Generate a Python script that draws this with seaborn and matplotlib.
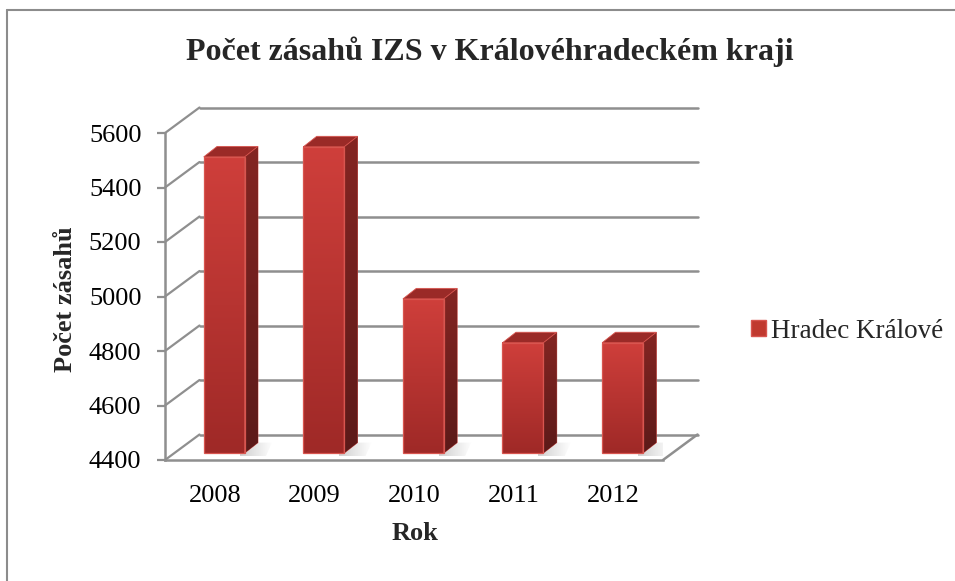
import numpy as np
import pandas as pd
import matplotlib
matplotlib.use('Agg')
import matplotlib.pyplot as plt
import seaborn as sns
from matplotlib.patches import Polygon, Patch
from matplotlib.lines import Line2D
from matplotlib.colors import LinearSegmentedColormap


### data
years = ['2008', '2009', '2010', '2011', '2012']
zasahy = [5487, 5524, 4966, 4805, 4805]
yticks = [4400, 4600, 4800, 5000, 5200, 5400, 5600]
series_name = 'Hradec Králové'
title = 'Počet zásahů IZS v Královéhradeckém kraji'
ylabel = 'Počet zásahů'
xlabel = 'Rok'

df = pd.DataFrame({'rok': years, 'zasahy': zasahy})

sns.set_theme(style='white')
plt.rcParams['font.family'] = ['Liberation Serif', 'DejaVu Serif']

GRID = '#8f8f8f'
EDGE = '#d8554f'

fig = plt.figure(figsize=(9.55, 5.81), dpi=100)
fig.patch.set_facecolor('white')
ax = fig.add_axes([165 / 955, 1 - 460 / 581, 498 / 955, 327 / 581])
ax.set_facecolor('none')

sns.barplot(data=df, x='rok', y='zasahy', color='#b83330', saturation=1,
            width=0.41, ax=ax, zorder=3)
ax.set_xlim(-0.5, 4.5)
ax.set_ylim(yticks[0], yticks[-1])

## pixel -> data units (oblique "3D" look like Excel)
bb = ax.get_window_extent()
ux = 5.0 / bb.width
uy = (yticks[-1] - yticks[0]) / bb.height
dep_x, dep_y = 34.5 * ux, 25.5 * uy      # full depth of the wall
sh = 0.27                                # where the bar fronts sit
bd_x, bd_y = 13.4 * ux, 10.5 * uy        # depth of one bar

## back wall gridlines + left wall diagonals
for t in yticks:
    ax.plot([-0.5 + dep_x, 4.5 + dep_x], [t + dep_y, t + dep_y], color=GRID, lw=1.8,
            clip_on=False, zorder=1)
    ax.plot([-0.5, -0.5 + dep_x], [t, t + dep_y], color=GRID, lw=1.6, clip_on=False, zorder=1)
ax.plot([4.5, 4.5 + dep_x], [yticks[0], yticks[0] + dep_y], color=GRID, lw=1.8,
        clip_on=False, zorder=1)

front_cmap = LinearSegmentedColormap.from_list('f', ['#9f2927', '#cf3f3b'])
side_cmap = LinearSegmentedColormap.from_list('s', ['#5c1a19', '#842522'])
shadow_cmap = LinearSegmentedColormap.from_list('sh', ['#cfcfcf', '#ffffff'])
grad = np.linspace(0, 1, 256).reshape(-1, 1)
hgrad = np.linspace(0, 1, 256).reshape(1, -1)

for p, v in zip(ax.patches, zasahy):
    x0 = p.get_x() + sh * dep_x
    w = p.get_width()
    y0 = yticks[0] + sh * dep_y
    y1 = v + sh * dep_y
    p.set_x(x0)
    p.set_y(y0)
    p.set_height(v - yticks[0])
    p.set_facecolor('none')
    p.set_edgecolor(EDGE)
    p.set_linewidth(0.9)
    p.set_zorder(5)
    p.set_clip_on(False)
    x1 = x0 + w

    # soft floor shadow to the right
    shadow = Polygon([(x0 + 0.02, y0 - 3 * uy), (x1 + bd_x + 0.08, y0 - 3 * uy),
                      (x1 + bd_x + 0.14, y0 + bd_y), (x1, y0 + bd_y)],
                     closed=True, facecolor='none', edgecolor='none', zorder=2, clip_on=False)
    ax.add_patch(shadow)
    ims_ = ax.imshow(hgrad, cmap=shadow_cmap, origin='lower', aspect='auto',
                     extent=(x1 - 0.05, x1 + bd_x + 0.14, y0 - 3 * uy, y0 + bd_y), zorder=2)
    ims_.set_clip_path(shadow)

    im = ax.imshow(grad, cmap=front_cmap, origin='lower', aspect='auto',
                   extent=(x0, x1, y0, y1), zorder=4)
    im.set_clip_on(False)

    side = Polygon([(x1, y0), (x1, y1), (x1 + bd_x, y1 + bd_y), (x1 + bd_x, y0 + bd_y)],
                   closed=True, facecolor='#6e1f1d', edgecolor=EDGE, lw=0.6,
                   zorder=4, clip_on=False)
    ax.add_patch(side)
    ims = ax.imshow(grad, cmap=side_cmap, origin='lower', aspect='auto',
                    extent=(x1, x1 + bd_x, y0, y1 + bd_y), zorder=4.2)
    ims.set_clip_path(side)

    top = Polygon([(x0, y1), (x1, y1), (x1 + bd_x, y1 + bd_y), (x0 + bd_x, y1 + bd_y)],
                  closed=True, facecolor='#9a2a27', edgecolor=EDGE, lw=0.6,
                  zorder=4.5, clip_on=False)
    ax.add_patch(top)

ax.set_xlim(-0.5, 4.5)
ax.set_ylim(yticks[0], yticks[-1])

## axes / ticks
for s in ['top', 'right']:
    ax.spines[s].set_visible(False)
for s in ['left', 'bottom']:
    ax.spines[s].set_color(GRID)
    ax.spines[s].set_linewidth(1.8)
    ax.spines[s].set_zorder(1)

ax.set_xticks(range(len(years)))
ax.set_xticklabels(years)
ax.set_xticks(np.arange(-0.5, 5.0, 1.0), minor=True)
ax.set_yticks(yticks)
ax.set_yticklabels([str(t) for t in yticks])
ax.tick_params(axis='x', which='major', length=0, pad=18, labelsize=19, labelcolor='black')
ax.tick_params(axis='x', which='minor', length=6, width=1.6, color=GRID, direction='out')
ax.tick_params(axis='y', length=6, width=1.6, color=GRID, direction='out', pad=11,
               labelsize=19, labelcolor='black', left=True)
ax.set_xlabel('')
ax.set_ylabel('')

## texts
fig.text(490 / 955, 1 - 52 / 581, title, ha='center', va='center', fontsize=23,
         fontweight='bold')
fig.text(65 / 955, 1 - 299 / 581, ylabel, ha='center', va='center', rotation=90,
         fontsize=19, fontweight='bold')
fig.text(415 / 955, 1 - 534 / 581, xlabel, ha='center', va='center', fontsize=19,
         fontweight='bold')

handle = Patch(facecolor='#c0392f', edgecolor=EDGE)
fig.legend(handles=[handle], labels=[series_name], loc='center left',
           bbox_to_anchor=(751 / 955, 1 - 331 / 581), bbox_transform=fig.transFigure,
           frameon=False, fontsize=19.5, handlelength=0.55, handleheight=0.55,
           handletextpad=0.2, borderpad=0, borderaxespad=0)

## outer frame of the chart area
fig.add_artist(Line2D([7 / 955, 7 / 955], [0, 1 - 10 / 581], transform=fig.transFigure,
                      color='#8c8c8c', lw=1.5))
fig.add_artist(Line2D([7 / 955, 1], [1 - 10 / 581, 1 - 10 / 581], transform=fig.transFigure,
                      color='#8c8c8c', lw=1.5))

fig.savefig('out.png', dpi=100)
